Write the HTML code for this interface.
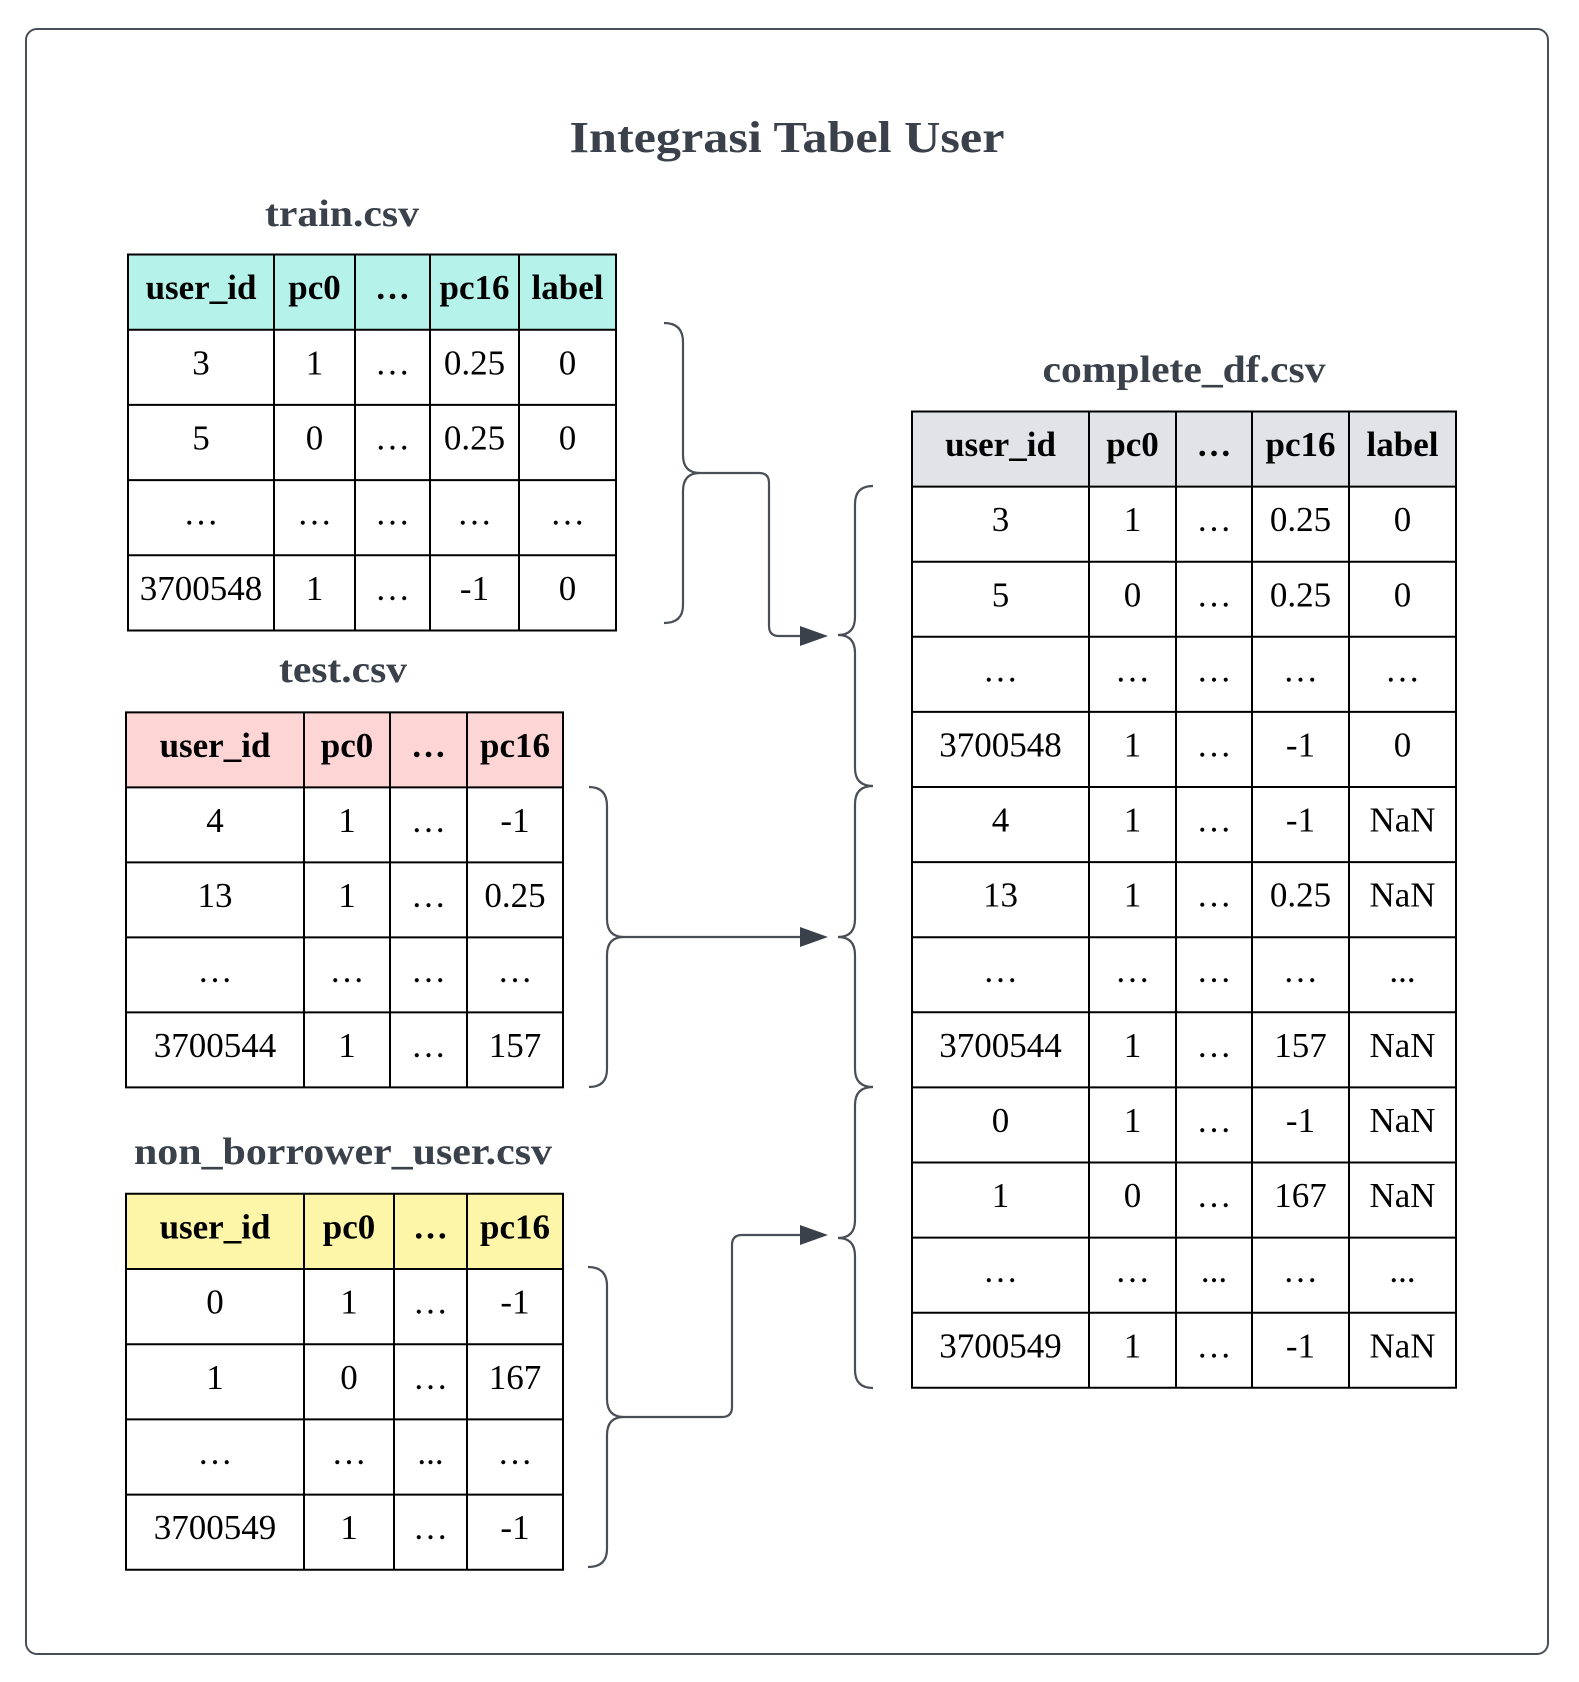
<!DOCTYPE html>
<html><head><meta charset="utf-8"><style>
html,body{margin:0;padding:0;background:#fff;}
svg{display:block;}
</style></head><body>
<svg id="chart" width="1579" height="1682" viewBox="0 0 1579 1682" xmlns="http://www.w3.org/2000/svg">
<rect x="26" y="29" width="1522" height="1625" rx="11" fill="#fff" stroke="#4a4f57" stroke-width="2"/>
<text x="787" y="152" text-anchor="middle" font-family="Liberation Serif, serif" font-weight="bold" font-size="44" fill="#3a414a" textLength="435" lengthAdjust="spacingAndGlyphs">Integrasi Tabel User</text>
<g id="tables"></g>
<g fill="none" stroke="#4a4f57" stroke-width="2.2">
<path d="M664,323 Q683,323 683,342 L683,455 Q683,473 700,473 Q683,473 683,491 L683,605 Q683,623 664,623"/>
<path d="M700,473 L759,473 Q769,473 769,483 L769,626 Q769,636 779,636 L805,636"/>
<path d="M589,787 Q607,787 607,806 L607,919 Q607,937 624,937 Q607,937 607,955 L607,1069 Q607,1087 589,1087"/>
<path d="M624,937 L805,937"/>
<path d="M588,1267 Q607,1267 607,1286 L607,1399 Q607,1417 624,1417 Q607,1417 607,1435 L607,1549 Q607,1567 588,1567"/>
<path d="M624,1417 L722,1417 Q732,1417 732,1407 L732,1245 Q732,1235 742,1235 L805,1235"/>
<path d="M873,486 Q855,486 855,504 L855,617 Q855,635 838,635 Q855,635 855,653 L855,768 Q855,786 873,786 Q855,786 855,804 L855,919 Q855,937 838,937 Q855,937 855,955 L855,1069 Q855,1087 873,1087 Q855,1087 855,1105 L855,1220 Q855,1238 838,1238 Q855,1238 855,1256 L855,1370 Q855,1388 873,1388"/>
</g>
<g fill="#3a414a">
<polygon points="800,626 828,636 800,646"/>
<polygon points="800,927 828,937 800,947"/>
<polygon points="800,1225 828,1235 800,1245"/>
</g>
</svg>
<script>
const trainHeaders = ["user_id","pc0","…","pc16","label"];
const trainRows = [["3","1","…","0.25","0"],["5","0","…","0.25","0"],["…","…","…","…","…"],["3700548","1","…","-1","0"]];
const testHeaders = ["user_id","pc0","…","pc16"];
const testRows = [["4","1","…","-1"],["13","1","…","0.25"],["…","…","…","…"],["3700544","1","…","157"]];
const nonHeaders = ["user_id","pc0","…","pc16"];
const nonRows = [["0","1","…","-1"],["1","0","…","167"],["…","…","...","…"],["3700549","1","…","-1"]];
const compHeaders = ["user_id","pc0","…","pc16","label"];
const compRows = [["3","1","…","0.25","0"],["5","0","…","0.25","0"],["…","…","…","…","…"],["3700548","1","…","-1","0"],["4","1","…","-1","NaN"],["13","1","…","0.25","NaN"],["…","…","…","…","..."],["3700544","1","…","157","NaN"],["0","1","…","-1","NaN"],["1","0","…","167","NaN"],["…","…","...","…","..."],["3700549","1","…","-1","NaN"]];

const NS = "http://www.w3.org/2000/svg";
const g = document.getElementById("tables");
function mk(tag, attrs, parent){const e=document.createElementNS(NS,tag);for(const k in attrs)e.setAttribute(k,attrs[k]);parent.appendChild(e);return e;}

function drawTable(name, title, titleX, titleY, titleW, xs, top, rowH, headers, rows, fillColor){
  const tg = mk("g",{},g);
  
  
  const t = mk("text",{x:titleX,y:titleY,"text-anchor":"middle","font-family":"Liberation Serif, serif","font-weight":"bold","font-size":"38",fill:"#3a414a",textLength:titleW,lengthAdjust:"spacingAndGlyphs"},tg);
  t.textContent = title;
  
  
  const w = xs[xs.length-1]-xs[0];
  const nR = rows.length+1;
  const hb = mk("rect",{x:xs[0],y:top,width:w,height:rowH,fill:fillColor},tg);
  
  
  const all = [headers].concat(rows);
  all.forEach((r,ri)=>{
    r.forEach((v,ci)=>{
      const cx = (xs[ci]+xs[ci+1])/2;
      const cy = top + rowH*ri + rowH/2 + 7;
      const tx = mk("text",{x:cx,y:cy,"text-anchor":"middle","font-family":"Liberation Serif, serif","font-size":"35","font-weight":ri===0?"bold":"normal",fill:"#000"},tg);
      tx.textContent = v;
      
      
    });
  });
  for(let i=0;i<=nR;i++){
    const y = top+rowH*i;
    const l = mk("line",{x1:xs[0]-1,x2:xs[xs.length-1]+1,y1:y,y2:y,stroke:"#000","stroke-width":"2"},tg);
    
    
  }
  xs.forEach(x=>{
    const l = mk("line",{x1:x,x2:x,y1:top,y2:top+rowH*nR,stroke:"#000","stroke-width":"2"},tg);
    
    
  });
}
drawTable("train","train.csv",342,226,154,[128,274,355,430,519,616],254.5,75.2,trainHeaders,trainRows,"#b5f2ea");
drawTable("test","test.csv",343,682,128,[126,304,390,467,563],712.4,75,testHeaders,testRows,"#fdd5d5");
drawTable("non-borrower","non_borrower_user.csv",343,1164,418,[126,304,394,467,563],1193.8,75.2,nonHeaders,nonRows,"#fdf5a8");
drawTable("complete","complete_df.csv",1184,382,283,[912,1089,1176,1252,1349,1456],411.5,75.1,compHeaders,compRows,"#e1e3e7");
</script>
</body></html>
